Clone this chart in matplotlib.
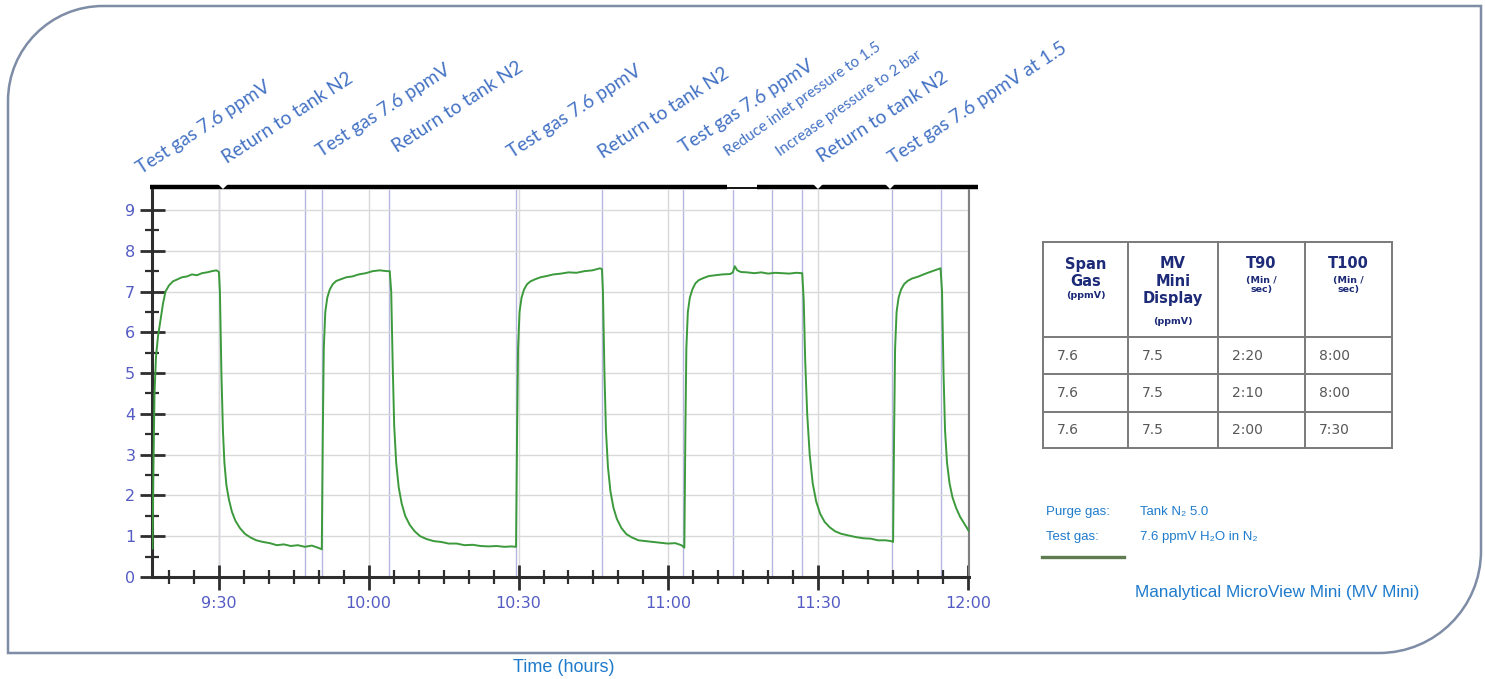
import matplotlib
matplotlib.use("Agg")
import matplotlib.pyplot as plt
from matplotlib.path import Path
from matplotlib.patches import PathPatch, Polygon
from matplotlib.ticker import MultipleLocator, FixedLocator, FixedFormatter
from matplotlib.transforms import blended_transform_factory

# ---------------- data ----------------
# time in minutes after 9:00, MV Mini reading in ppmV
time_min = [
    16.7, 16.9, 17.1, 17.4, 17.8, 18.3, 18.8, 19.3, 20.0, 20.8, 21.7, 22.6, 23.6, 24.6, 25.6, 26.6, 27.6, 28.6, 29.5, 30.0,
    30.2, 30.5, 30.8, 31.1, 31.5, 32.0, 32.6, 33.3, 34.2, 35.2, 36.3, 37.5, 38.8, 40.2, 41.6, 43.0, 44.4, 45.8, 47.2, 48.6, 49.8, 50.6,
    50.8, 51.0, 51.3, 51.7, 52.2, 52.8, 53.5, 54.4, 55.5, 56.7, 58.0, 59.4, 60.8, 62.2, 63.6, 64.2,
    64.5, 64.8, 65.1, 65.5, 66.0, 66.6, 67.3, 68.2, 69.2, 70.3, 71.6, 73.0, 74.5, 76.0, 77.6, 79.2, 80.8, 82.4, 84.0, 85.6, 87.2, 88.6, 89.5,
    89.7, 89.9, 90.2, 90.6, 91.1, 91.7, 92.4, 93.3, 94.4, 95.6, 97.0, 98.5, 100.0, 101.6, 103.2, 104.8, 106.3, 106.7,
    106.9, 107.2, 107.5, 107.9, 108.4, 109.0, 109.7, 110.6, 111.6, 112.7, 114.0, 115.4, 116.9, 118.4, 119.9, 121.4, 122.6, 123.2,
    123.4, 123.6, 123.9, 124.3, 124.8, 125.4, 126.1, 127.0, 128.1, 129.4, 130.8, 132.4, 132.9, 133.3, 133.8, 134.5, 135.8, 137.2,
    138.6, 140.0, 141.4, 142.8, 144.2, 145.6, 146.8,
    147.1, 147.4, 147.8, 148.3, 148.9, 149.6, 150.4, 151.3, 152.3, 153.4, 154.6, 156.0, 157.5, 159.0, 160.5, 162.0, 163.5, 164.6, 165.0,
    165.2, 165.4, 165.7, 166.1, 166.6, 167.2, 167.9, 168.8, 169.9, 171.1, 172.4, 173.6, 174.5,
    174.8, 175.1, 175.4, 175.8, 176.3, 176.9, 177.6, 178.4, 179.3, 180.2,
]
ppmv = [
    0.7, 2.8, 4.5, 5.4, 5.9, 6.3, 6.7, 7.0, 7.15, 7.25, 7.3, 7.35, 7.37, 7.42, 7.40, 7.45, 7.47, 7.50, 7.52, 7.48,
    7.0, 5.0, 3.6, 2.8, 2.25, 1.9, 1.6, 1.38, 1.2, 1.06, 0.97, 0.9, 0.86, 0.83, 0.78, 0.80, 0.76, 0.78, 0.74, 0.77, 0.72, 0.68,
    3.5, 5.6, 6.5, 6.85, 7.05, 7.18, 7.26, 7.3, 7.35, 7.37, 7.42, 7.45, 7.5, 7.52, 7.5, 7.5,
    7.0, 5.2, 3.7, 2.8, 2.2, 1.8, 1.5, 1.28, 1.12, 1.0, 0.93, 0.88, 0.86, 0.82, 0.82, 0.78, 0.79, 0.76, 0.75, 0.76, 0.74, 0.75, 0.74,
    3.5, 5.6, 6.5, 6.85, 7.05, 7.18, 7.25, 7.3, 7.35, 7.38, 7.42, 7.44, 7.47, 7.46, 7.5, 7.52, 7.57, 7.55,
    7.0, 5.0, 3.6, 2.7, 2.1, 1.7, 1.42, 1.2, 1.05, 0.97, 0.9, 0.88, 0.86, 0.84, 0.82, 0.83, 0.78, 0.72,
    3.5, 5.6, 6.5, 6.85, 7.05, 7.2, 7.28, 7.33, 7.38, 7.4, 7.42, 7.43, 7.47, 7.62, 7.52, 7.48, 7.47, 7.45,
    7.47, 7.44, 7.46, 7.45, 7.44, 7.46, 7.45,
    6.8, 5.3, 4.0, 3.0, 2.3, 1.85, 1.55, 1.35, 1.22, 1.12, 1.06, 1.02, 0.98, 0.95, 0.94, 0.9, 0.9, 0.88, 0.86,
    3.5, 5.6, 6.5, 6.85, 7.05, 7.18, 7.26, 7.32, 7.36, 7.42, 7.48, 7.53, 7.57,
    7.0, 5.0, 3.6, 2.8, 2.3, 1.95, 1.7, 1.48, 1.3, 1.12,
]
event_min = [30.0, 47.2, 50.6, 64.0, 89.5, 106.7, 122.9, 132.9, 140.8, 146.8, 164.8, 174.6]
major_tick_min = [30, 60, 90, 120, 150, 180]
major_tick_labels = ["9:30", "10:00", "10:30", "11:00", "11:30", "12:00"]
y_ticks = [0, 1, 2, 3, 4, 5, 6, 7, 8, 9]

annotation_texts = ["Test gas 7.6 ppmV", "Return to tank N2", "Test gas 7.6 ppmV", "Return to tank N2",
                    "Test gas 7.6 ppmV", "Return to tank N2", "Test gas 7.6 ppmV", "Reduce inlet pressure to 1.5",
                    "Increase pressure to 2 bar", "Return to tank N2", "Test gas 7.6 ppmV at 1.5"]
annotation_min = [14.4, 31.6, 50.6, 65.6, 88.7, 106.9, 123.3, 131.9, 142.4, 150.8, 165.0]
annotation_small = [False, False, False, False, False, False, False, True, True, False, False]

table_headers = [["Span", "Gas"], ["MV", "Mini", "Display"], ["T90"], ["T100"]]
table_units = ["(ppmV)", "(ppmV)", "(Min /\nsec)", "(Min /\nsec)"]
span_gas = ["7.6", "7.6", "7.6"]
mv_display = ["7.5", "7.5", "7.5"]
t90 = ["2:20", "2:10", "2:00"]
t100 = ["8:00", "8:00", "7:30"]

legend_labels = ["Purge gas:", "Test gas:"]
legend_values = ["Tank N\u2082 5.0", "7.6 ppmV H\u2082O in N\u2082"]
instrument = "Manalytical MicroView Mini (MV Mini)"
x_title = "Time (hours)"

# ---------------- layout ----------------
W, H = 1485, 679
fig = plt.figure(figsize=(W / 100, H / 100), dpi=100)
fig.patch.set_facecolor("white")

bg = fig.add_axes([0, 0, 1, 1], zorder=0)
bg.set_xlim(0, W)
bg.set_ylim(H, 0)
bg.axis("off")

# rounded frame (top-left and bottom-right rounded)
x0, y0, x1, y1 = 8, 6, 1481, 653
r1, r2, k = 95, 102, 0.5523
verts = [
    (x0 + r1, y0), (x1, y0), (x1, y1 - r2),
    (x1, y1 - r2 + k * r2), (x1 - r2 + k * r2, y1), (x1 - r2, y1),
    (x0, y1), (x0, y0 + r1),
    (x0, y0 + r1 - k * r1), (x0 + r1 - k * r1, y0), (x0 + r1, y0),
]
codes = [Path.MOVETO, Path.LINETO, Path.LINETO,
         Path.CURVE4, Path.CURVE4, Path.CURVE4,
         Path.LINETO, Path.LINETO,
         Path.CURVE4, Path.CURVE4, Path.CURVE4]
bg.add_patch(PathPatch(Path(verts, codes), facecolor="white", edgecolor="#7e8ca6", lw=1.8))

# main chart axes
ax_l, ax_r, ax_b, ax_t = 152, 969, 577, 190
ax = fig.add_axes([ax_l / W, 1 - ax_b / H, (ax_r - ax_l) / W, (ax_b - ax_t) / H], zorder=2)
ax.patch.set_alpha(0)
ax.set_xlim(16.6, 180.2)
ax.set_ylim(0, 9.49)

ax.yaxis.set_major_locator(FixedLocator(y_ticks))
ax.yaxis.set_minor_locator(MultipleLocator(0.5))
ax.xaxis.set_major_locator(FixedLocator(major_tick_min))
ax.xaxis.set_major_formatter(FixedFormatter(major_tick_labels))
ax.xaxis.set_minor_locator(MultipleLocator(5))

ax.grid(True, which="major", color="#d9d9d9", lw=1.0, zorder=0)
for t in event_min:
    ax.axvline(t, color="#b6b6de", lw=1.0, zorder=1)

ax.plot(time_min, ppmv, color="#3c9a3c", lw=1.4, zorder=3)

for s in ["left", "bottom"]:
    ax.spines[s].set_color("#2e2e2e")
    ax.spines[s].set_linewidth(2.2)
ax.spines["right"].set_color("#808080")
ax.spines["right"].set_linewidth(1.5)
ax.spines["top"].set_visible(False)

tick_color = "#545cc4"
ax.tick_params(axis="both", which="major", direction="inout", length=18, width=2,
               color="#2e2e2e", labelcolor=tick_color, labelsize=11.5)
ax.tick_params(axis="both", which="minor", direction="inout", length=10, width=1.6, color="#2e2e2e")
ax.tick_params(axis="x", which="major", pad=5)
ax.tick_params(axis="y", which="major", pad=3)
ax.tick_params(right=False, top=False)
for lab in ax.get_xticklabels() + ax.get_yticklabels():
    lab.set_fontfamily("DejaVu Sans")

# black bar above chart
bar_y = 187
bg.plot([150, 727], [bar_y, bar_y], color="black", lw=3.2, solid_capstyle="butt", zorder=3)
bg.plot([727, 757], [bar_y + 1, bar_y + 1], color="black", lw=1.3, solid_capstyle="butt", zorder=3)
bg.plot([757, 978], [bar_y, bar_y], color="black", lw=3.2, solid_capstyle="butt", zorder=3)
for nx in [223, 818, 890]:
    bg.add_patch(Polygon([(nx - 5, bar_y - 3), (nx + 5, bar_y - 3), (nx, bar_y + 2)],
                         closed=True, facecolor="white", edgecolor="none", zorder=4))

# rotated annotations
ann_y = [174, 164, 157, 153, 158, 159, 153, 157, 157, 163, 164]
tr = blended_transform_factory(ax.transData, bg.transData)
for txt, tm, yy, small in zip(annotation_texts, annotation_min, ann_y, annotation_small):
    ax.text(tm, yy, txt, transform=tr, rotation=35 if small else 33, rotation_mode="anchor",
            ha="left", va="baseline", fontsize=11 if small else 13.8,
            family="Lato", color="#4472c4", clip_on=False)

# table
col_x = [1043, 1128, 1218, 1305, 1392]
row_y = [242, 337, 374, 412, 448]
line_c = "#7a7a7a"
for cx in col_x:
    bg.plot([cx, cx], [row_y[0], row_y[-1]], color=line_c, lw=1.4, zorder=3)
for ry in row_y:
    bg.plot([col_x[0], col_x[-1]], [ry, ry], color=line_c, lw=1.4, zorder=3)

head_c = "#1c2a78"
head_y = [264, 281, 299]
for i, (hdr, unit) in enumerate(zip(table_headers, table_units)):
    cxm = (col_x[i] + col_x[i + 1]) / 2
    for j, h in enumerate(hdr):
        bg.text(cxm, head_y[j], h, ha="center", va="center", fontsize=10.5,
                fontweight="bold", family="DejaVu Sans", color=head_c)
    if len(hdr) == 1:
        uy = 285
    elif len(hdr) == 2:
        uy = 296
    else:
        uy = 321
    bg.text(cxm, uy, unit, ha="center", va="center", fontsize=6.8, fontweight="bold",
            family="DejaVu Sans", color=head_c, linespacing=1.05)

cell_c = "#585858"
cols = [span_gas, mv_display, t90, t100]
for i, col in enumerate(cols):
    for r, val in enumerate(col):
        ym = (row_y[r + 1] + row_y[r + 2]) / 2
        bg.text(col_x[i] + 14, ym, val, ha="left", va="center", fontsize=10,
                family="DejaVu Sans", color=cell_c)

# legend block
blue = "#1f7bcc"
fam = ["Liberation Sans", "DejaVu Sans"]
for j, (lab, val) in enumerate(zip(legend_labels, legend_values)):
    yy = 512 + j * 25
    bg.text(1046, yy, lab, ha="left", va="center", fontsize=9.5, family=fam, color=blue)
    bg.text(1140, yy, val, ha="left", va="center", fontsize=9.5, family=fam, color=blue)
bg.plot([1042, 1124], [557, 557], color="#5e7c50", lw=2.4, zorder=3)
bg.text(1135, 592, instrument, ha="left", va="center", fontsize=12.3, family=fam, color=blue)
bg.text(564, 668, x_title, ha="center", va="center", fontsize=13, family=fam, color=blue)

fig.savefig("out.png", dpi=100, facecolor="white")
